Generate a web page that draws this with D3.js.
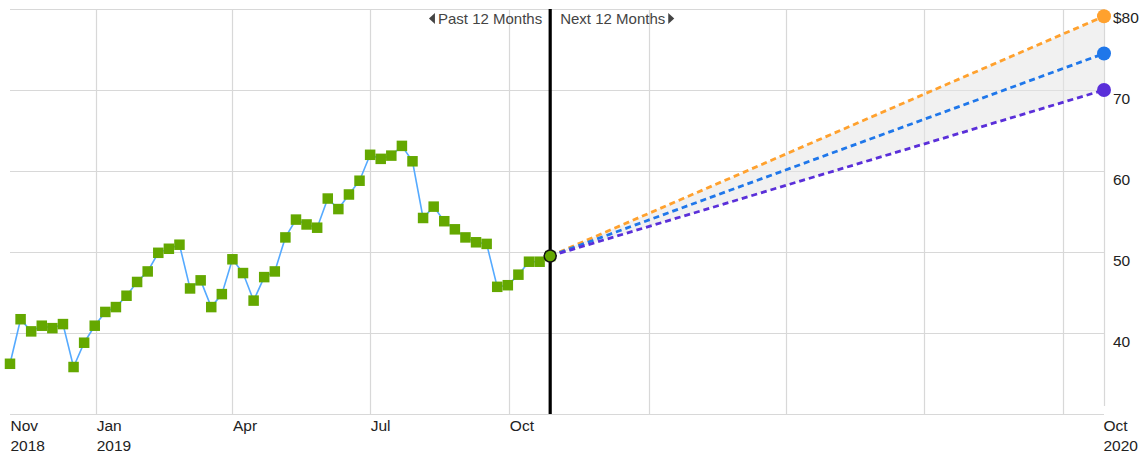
<!DOCTYPE html>
<html>
<head>
<meta charset="utf-8">
<script src="https://cdn.jsdelivr.net/npm/d3@7"></script>
<style>
  html, body { margin: 0; padding: 0; background: #fff; }
  svg { display: block; font-family: "Liberation Sans", Arial, sans-serif; }
</style>
</head>
<body>
<svg id="chart" width="1144" height="455"></svg>
<script>
// ---------- data ----------
const startDate = "2018-11-05";
const prices = [
  36.2, 41.7, 40.2, 40.9, 40.6, 41.1, 35.8, 38.8, 40.9, 42.6,
  43.2, 44.6, 46.3, 47.6, 49.9, 50.4, 50.9, 45.5, 46.5, 43.2,
  44.8, 49.1, 47.4, 44.0, 46.9, 47.6, 51.8, 54.0, 53.4, 53.0,
  56.6, 55.3, 57.1, 58.8, 62.0, 61.5, 61.9, 63.1, 61.2, 54.2,
  55.6, 53.8, 52.8, 51.8, 51.2, 51.0, 45.7, 45.9, 47.2, 48.8,
  48.8, 49.5
];
const forecastDates = ["2019-10-28", "2020-10-28"];
const forecastHigh = [49.5, 79.1];
const forecastAvg  = [49.5, 74.5];
const forecastLow  = [49.5, 70.0];
const yTicks = [80, 70, 60, 50, 40];
const yTickLabels = ["$80", "70", "60", "50", "40"];
const gridDates = ["2019-01-01", "2019-04-01", "2019-07-01", "2019-10-01",
                   "2020-01-01", "2020-04-01", "2020-07-01", "2020-10-01"];
const xLabelDates = ["2018-11-05", "2019-01-01", "2019-04-01", "2019-07-01", "2019-10-01", "2020-10-28"];
const xLabelLine1 = ["Nov", "Jan", "Apr", "Jul", "Oct", "Oct"];
const xLabelLine2 = ["2018", "2019", "", "", "", "2020"];
const pastLabel = "Past 12 Months";
const nextLabel = "Next 12 Months";

// ---------- setup ----------
const parse = d3.utcParse("%Y-%m-%d");
const svg = d3.select("#chart");
const pLeft = 10, pRight = 1104, pTop = 9, pBottom = 414;

const x = d3.scaleUtc()
  .domain([parse("2018-11-05"), parse("2020-10-28")])
  .range([pLeft, pRight]);
const y = d3.scaleLinear().domain([30, 80]).range([pBottom, pTop]);

const dates = prices.map((_, i) => d3.utcDay.offset(parse(startDate), i * 7));
const series = prices.map((v, i) => ({ date: dates[i], value: v }));

// ---------- grid ----------
const grid = svg.append("g").attr("stroke", "#d8d8d8").attr("stroke-width", 1.2);
grid.selectAll("line.h").data([30, 40, 50, 60, 70, 80]).join("line")
  .attr("x1", pLeft).attr("x2", pRight)
  .attr("y1", d => Math.round(y(d)) + 0.5).attr("y2", d => Math.round(y(d)) + 0.5);
grid.selectAll("line.v").data(gridDates.map(parse)).join("line")
  .attr("x1", d => Math.round(x(d)) + 0.5).attr("x2", d => Math.round(x(d)) + 0.5)
  .attr("y1", pTop).attr("y2", pBottom);
grid.append("line")
  .attr("x1", pRight + 0.5).attr("x2", pRight + 0.5).attr("y1", pTop).attr("y2", 406);

// ---------- y labels (right) ----------
const yAxis = d3.axisRight(y).tickValues(yTicks)
  .tickFormat((d, i) => yTickLabels[i]).tickSize(0).tickPadding(0);
const yg = svg.append("g").attr("transform", `translate(${pRight + 9},0)`).call(yAxis);
yg.select(".domain").remove();
yg.selectAll("text")
  .attr("font-size", 15.5).attr("font-family", "Liberation Sans, Arial, sans-serif")
  .attr("fill", "#222").attr("dy", 0).attr("y", 13.5);

// ---------- x labels ----------
const xAxis = d3.axisBottom(x).tickValues(xLabelDates.map(parse))
  .tickFormat((d, i) => xLabelLine1[i]).tickSize(0).tickPadding(0);
const xg = svg.append("g").attr("transform", `translate(0,${pBottom})`).call(xAxis);
xg.select(".domain").remove();
xg.selectAll(".tick text")
  .attr("font-size", 15.5).attr("font-family", "Liberation Sans, Arial, sans-serif")
  .attr("fill", "#222").attr("text-anchor", "start").attr("dy", 0).attr("y", 17)
  .attr("x", (d, i) => (i === xLabelDates.length - 1 ? -1 : 0))
  .each(function (d, i) {
    if (xLabelLine2[i]) {
      d3.select(this).append("tspan")
        .attr("x", i === xLabelDates.length - 1 ? -1 : 0).attr("dy", 20).text(xLabelLine2[i]);
    }
  });

// ---------- forecast band ----------
const fDates = forecastDates.map(parse);
const band = fDates.map((d, i) => ({ date: d, hi: forecastHigh[i], lo: forecastLow[i] }));
svg.append("path").datum(band)
  .attr("fill", "#e6e6e6").attr("fill-opacity", 0.55)
  .attr("d", d3.area().x(d => x(d.date)).y0(d => y(d.lo)).y1(d => y(d.hi)));

const fSeries = [
  { vals: forecastHigh, color: "#ffa12e" },
  { vals: forecastAvg,  color: "#1f77ea" },
  { vals: forecastLow,  color: "#5a2fd9" }
];
const fLine = d3.line().x(d => x(d.date)).y(d => y(d.v));
fSeries.forEach(s => {
  svg.append("path")
    .datum(fDates.map((d, i) => ({ date: d, v: s.vals[i] })))
    .attr("fill", "none").attr("stroke", s.color).attr("stroke-width", 2.8)
    .attr("stroke-dasharray", "6,4").attr("d", fLine);
});

// ---------- price line ----------
svg.append("path").datum(series)
  .attr("fill", "none").attr("stroke", "#55aaff").attr("stroke-width", 1.6)
  .attr("d", d3.line().x(d => x(d.date)).y(d => y(d.value)));
svg.append("g").selectAll("rect").data(series).join("rect")
  .attr("x", d => x(d.date) - 5.25).attr("y", d => y(d.value) - 5.25)
  .attr("width", 10.5).attr("height", 10.5)
  .attr("fill", "#64a800");

// ---------- divider ----------
const divX = x(parse(forecastDates[0]));
svg.append("line")
  .attr("x1", divX).attr("x2", divX).attr("y1", pTop).attr("y2", pBottom)
  .attr("stroke", "#000").attr("stroke-width", 3.2);
svg.append("circle")
  .attr("cx", divX).attr("cy", y(forecastAvg[0])).attr("r", 6)
  .attr("fill", "#64a800").attr("stroke", "#111").attr("stroke-width", 1.5);

// ---------- forecast end points ----------
fSeries.forEach(s => {
  svg.append("circle")
    .attr("cx", x(fDates[1])).attr("cy", y(s.vals[1])).attr("r", 7)
    .attr("fill", s.color);
});

// ---------- past / next labels ----------
const pastText = svg.append("text").attr("x", divX - 8).attr("y", 24)
  .attr("text-anchor", "end").attr("font-size", 15).attr("fill", "#444")
  .text(pastLabel);
const nextText = svg.append("text").attr("x", divX + 10).attr("y", 24)
  .attr("text-anchor", "start").attr("font-size", 15).attr("fill", "#444")
  .text(nextLabel);
const pastW = pastText.node().getComputedTextLength();
const nextW = nextText.node().getComputedTextLength();
const lx = divX - 8 - pastW - 3;
svg.append("path").attr("fill", "#444")
  .attr("d", `M${lx},13 L${lx},24 L${lx - 6},18.5 Z`);
const rx = divX + 10 + nextW + 3;
svg.append("path").attr("fill", "#444")
  .attr("d", `M${rx},13 L${rx},24 L${rx + 6},18.5 Z`);
</script>
</body>
</html>
